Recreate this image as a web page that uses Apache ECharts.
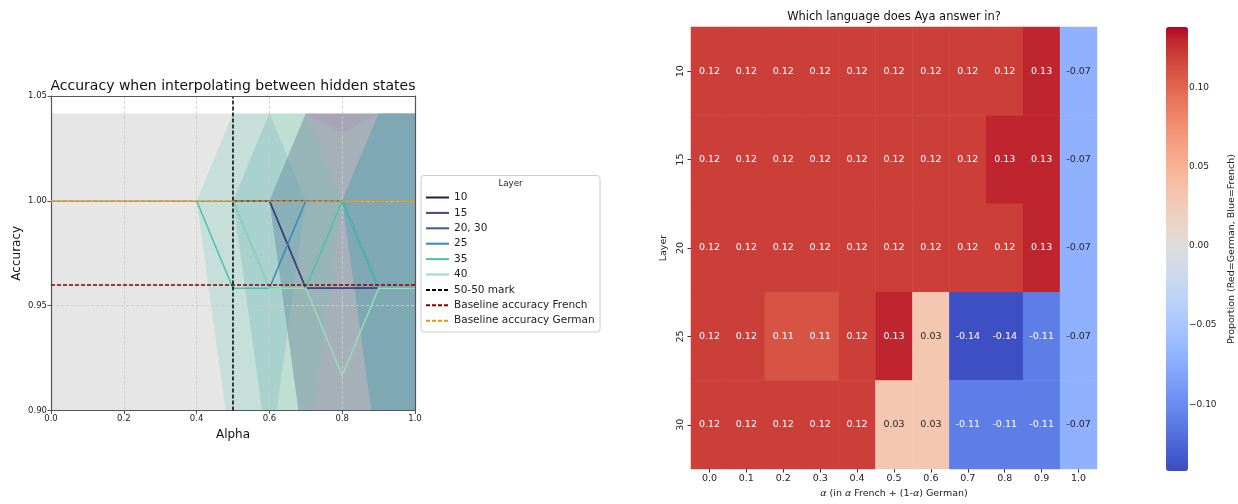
<!DOCTYPE html>
<html><head><meta charset="utf-8">
<script src="https://cdn.jsdelivr.net/npm/echarts@6/dist/echarts.min.js"></script>
<style>html,body{margin:0;padding:0;background:#fff}#c{width:1238px;height:504px}</style>
</head><body><div id="c"></div>
<script>
// ---------- Left chart data ----------
const alphas = [0.0, 0.1, 0.2, 0.3, 0.4, 0.5, 0.6, 0.7, 0.8, 0.9, 1.0];
const acc10 = [1, 1, 1, 1, 1, 1, 1, 0.9583, 0.9583, 0.9583, 0.9583];
const acc15 = [1, 1, 1, 1, 1, 1, 1, 0.9583, 0.9583, 0.9583, 0.9583];
const acc2030 = [1, 1, 1, 1, 1, 1, 1, 1, 1, 0.9583, 0.9583];
const acc25 = [1, 1, 1, 1, 1, 1, 0.9583, 1, 1, 0.9583, 0.9583];
const acc35 = [1, 1, 1, 1, 1, 0.9583, 0.9583, 0.9583, 1, 0.9583, 0.9583];
const acc40 = [1, 1, 1, 1, 1, 1, 0.9583, 0.9583, 0.9167, 0.9583, 0.9583];
// half-widths of the shaded bands
const err10 = [0, 0, 0, 0, 0, 0, 0, 0.0833, 0.0833, 0.0833, 0.0833];
const err15 = [0, 0, 0, 0, 0, 0, 0, 0.0833, 0.0833, 0.0833, 0.0833];
const err2030 = [0, 0, 0, 0, 0, 0, 0, 0, 0, 0.0833, 0.0833];
const err25 = [0, 0, 0, 0, 0, 0, 0.0833, 0, 0, 0.0833, 0.0833];
const err35 = [0, 0, 0, 0, 0, 0.0833, 0.0833, 0.0833, 0, 0.0833, 0.0833];
const err40 = [0, 0, 0, 0, 0, 0, 0.0833, 0.0833, 0.1153, 0.0833, 0.0833];
const layerNames = ['10', '15', '20, 30', '25', '35', '40'];
const baselineFrench = 0.9583;
const baselineFrenchErr = 0.0833;
const baselineGerman = 1.0;
const fiftyMark = 0.5;

// ---------- Right chart data ----------
const heatAlphas = ['0.0', '0.1', '0.2', '0.3', '0.4', '0.5', '0.6', '0.7', '0.8', '0.9', '1.0'];
const heatLayers = ['10', '15', '20', '25', '30'];
const row10 = [0.12, 0.12, 0.12, 0.12, 0.12, 0.12, 0.12, 0.12, 0.12, 0.13, -0.07];
const row15 = [0.12, 0.12, 0.12, 0.12, 0.12, 0.12, 0.12, 0.12, 0.13, 0.13, -0.07];
const row20 = [0.12, 0.12, 0.12, 0.12, 0.12, 0.12, 0.12, 0.12, 0.12, 0.13, -0.07];
const row25 = [0.12, 0.12, 0.11, 0.11, 0.12, 0.13, 0.03, -0.14, -0.14, -0.11, -0.07];
const row30 = [0.12, 0.12, 0.12, 0.12, 0.12, 0.03, 0.03, -0.11, -0.11, -0.11, -0.07];
const colorbarTicks = [-0.10, -0.05, 0.00, 0.05, 0.10];
const colorMin = -0.142, colorMax = 0.138;

// ---------- styles ----------
const FONT = 'DejaVu Sans';
const layerColors = ['#2b1d3a', '#45438a', '#37599c', '#3a86ba', '#4ac2a9', '#9adcb8'];
const coolwarm = ['#3b4cc0','#445acc','#4d68d7','#5775e1','#6282ea','#6c8ef1','#779af7','#82a5fb','#8db0fe','#98b9ff','#a3c2ff','#aec9fd','#b8d0f9','#c2d5f4','#ccd9ee','#d5dbe6','#dddddd','#e5d8d1','#ecd3c5','#f1ccb9','#f5c4ad','#f7bba0','#f7b194','#f7a687','#f49a7b','#f18d6f','#ec7f63','#e57058','#de604d','#d55042','#cb3e38','#c0282f','#b40426'];

const accs = [acc10, acc15, acc2030, acc25, acc35, acc40];
const errs = [err10, err15, err2030, err25, err35, err40];

const series = [];
function addBand(centre, half, color) {
  const pts = alphas.map((a, i) => [a, centre[i] - half[i], centre[i] + half[i]]);
  series.push({
    type: 'custom', xAxisIndex: 0, yAxisIndex: 0, data: pts, clip: true, silent: true, z: 1,
    encode: { x: 0, y: [1, 2] }, animation: false,
    renderItem: function (params, api) {
      if (params.dataIndex !== 0) return null;
      const poly = [];
      pts.forEach(p => poly.push(api.coord([p[0], p[1]])));
      for (let i = pts.length - 1; i >= 0; i--) poly.push(api.coord([pts[i][0], pts[i][2]]));
      const cs = params.coordSys;
      return {
        type: 'group',
        clipPath: { type: 'rect', shape: { x: cs.x, y: cs.y, width: cs.width, height: cs.height } },
        children: [{ type: 'polygon', shape: { points: poly }, style: { fill: color, opacity: 0.2, stroke: null } }]
      };
    }
  });
}
// French baseline band (gray)
addBand(alphas.map(() => baselineFrench), alphas.map(() => baselineFrenchErr), '#808080');
// layer bands
accs.forEach((acc, k) => addBand(acc, errs[k], layerColors[k]));
// layer lines
accs.forEach((acc, k) => {
  series.push({
    type: 'line', name: layerNames[k], xAxisIndex: 0, yAxisIndex: 0,
    data: alphas.map((a, i) => [a, acc[i]]), symbol: 'none',
    lineStyle: { color: layerColors[k], width: 1.5 }, itemStyle: { color: layerColors[k] },
    z: 3, animation: false, silent: true
  });
});
function refLine(name, color, spec, z) {
  const ls = { color: color, width: 1.5, type: [4, 2] };
  series.push({
    type: 'line', name: name, xAxisIndex: 0, yAxisIndex: 0, data: [], symbol: 'none',
    lineStyle: ls, itemStyle: { color: color }, z: z, animation: false,
    markLine: { silent: true, symbol: ['none', 'none'], label: { show: false }, lineStyle: ls,
      animation: false, data: [spec], z: z }
  });
}
refLine('Baseline accuracy French', '#8b0000', { yAxis: baselineFrench }, 4);
refLine('Baseline accuracy German', '#ff8c00', { yAxis: baselineGerman }, 4);
refLine('50-50 mark', '#000000', { xAxis: fiftyMark }, 5);

// heatmap
const heatRows = [row10, row15, row20, row25, row30];
const heatData = [];
heatRows.forEach((row, yi) => row.forEach((v, xi) => {
  heatData.push({ value: [xi, yi, v], label: { color: Math.abs(v) > 0.08 ? '#ffffff' : '#262626' } });
}));
const heatIndex = series.length;
series.push({
  type: 'heatmap', xAxisIndex: 2, yAxisIndex: 2, data: heatData,
  label: { show: true, fontFamily: FONT, fontSize: 9.5, formatter: p => p.value[2].toFixed(2) },
  emphasis: { disabled: true }, silent: true, animation: false
});

const gridLine = { show: true, lineStyle: { color: 'rgba(205,205,205,0.85)', type: [3, 2], width: 1 } };
const option = {
  animation: false,
  textStyle: { fontFamily: FONT },
  grid: [
    { left: 51, top: 96, width: 364, height: 314.5 },
    { left: 691, top: 27, width: 406, height: 444 },
    { left: 1166, top: 27, width: 22, height: 444 }
  ],
  xAxis: [
    { gridIndex: 0, type: 'value', min: 0, max: 1, interval: 0.2, z: 2,
      axisLine: { show: true, onZero: false, lineStyle: { color: '#555', width: 1.2 } },
      axisTick: { show: true, length: 3.5, lineStyle: { color: '#555' } },
      axisLabel: { fontSize: 8.5, color: '#222', margin: 4, formatter: v => v.toFixed(1) },
      splitLine: gridLine,
      name: 'Alpha', nameLocation: 'middle', nameGap: 18, nameTextStyle: { fontSize: 12, color: '#111' } },
    { gridIndex: 0, type: 'value', min: 0, max: 1, position: 'top', z: 6,
      axisLine: { show: true, onZero: false, lineStyle: { color: '#555', width: 1.2 } },
      axisTick: { show: false }, axisLabel: { show: false }, splitLine: { show: false } },
    { gridIndex: 1, type: 'category', data: heatAlphas,
      axisLine: { show: false }, axisTick: { show: true, alignWithLabel: true, length: 3.5, lineStyle: { color: '#333' } },
      axisLabel: { fontSize: 9.5, color: '#222', margin: 5 }, splitLine: { show: false },
      name: '{i|α} (in {i|α} French + (1-{i|α}) German)', nameLocation: 'middle', nameGap: 20,
      nameTextStyle: { fontSize: 9.5, color: '#222', rich: { i: { fontStyle: 'italic', fontSize: 9.5, fontFamily: FONT } } } },
    { gridIndex: 2, type: 'value', min: 0, max: 1, show: false }
  ],
  yAxis: [
    { gridIndex: 0, type: 'value', min: 0.9, max: 1.05, interval: 0.05, z: 2,
      axisLine: { show: true, onZero: false, lineStyle: { color: '#555', width: 1.2 } },
      axisTick: { show: true, length: 3.5, lineStyle: { color: '#555' } },
      axisLabel: { fontSize: 8.5, color: '#222', margin: 4, formatter: v => v.toFixed(2) },
      splitLine: gridLine,
      name: 'Accuracy', nameLocation: 'middle', nameGap: 28, nameRotate: 90,
      nameTextStyle: { fontSize: 12, color: '#111' } },
    { gridIndex: 0, type: 'value', min: 0.9, max: 1.05, position: 'right', z: 6,
      axisLine: { show: true, onZero: false, lineStyle: { color: '#555', width: 1.2 } },
      axisTick: { show: false }, axisLabel: { show: false }, splitLine: { show: false } },
    { gridIndex: 1, type: 'category', data: heatLayers, inverse: true,
      axisLine: { show: false }, axisTick: { show: true, alignWithLabel: true, length: 3.5, lineStyle: { color: '#333' } },
      axisLabel: { fontSize: 9.5, color: '#222', rotate: 90, margin: 5 }, splitLine: { show: false },
      name: 'Layer', nameLocation: 'middle', nameGap: 22, nameRotate: 90,
      nameTextStyle: { fontSize: 9.5, color: '#222' } },
    { gridIndex: 2, type: 'value', min: colorMin, max: colorMax, position: 'right',
      axisLine: { show: false },
      axisTick: { show: true, length: 3.5, customValues: colorbarTicks, lineStyle: { color: '#333' } },
      axisLabel: { fontSize: 9, color: '#222', margin: 3, customValues: colorbarTicks,
        formatter: v => (v < 0 ? '\u2212' : '') + Math.abs(v).toFixed(2) },
      splitLine: { show: false },
      name: 'Proportion (Red=German, Blue=French)', nameLocation: 'middle', nameGap: 41, nameRotate: 90,
      nameTextStyle: { fontSize: 9.5, color: '#222' } }
  ],
  visualMap: [{
    type: 'continuous', seriesIndex: heatIndex, dimension: 2, min: colorMin, max: colorMax,
    inRange: { color: coolwarm }, calculable: false, hoverLink: false, realtime: false,
    left: 1166, top: 27, itemWidth: 22, itemHeight: 444, padding: 0, text: null,
    showLabel: false
  }],
  legend: {
    data: ['10', '15', '20, 30', '25', '35', '40', '50-50 mark', 'Baseline accuracy French', 'Baseline accuracy German'],
    orient: 'vertical', left: 425, top: 192, itemWidth: 23, itemHeight: 11, itemGap: 4.4,
    itemStyle: { opacity: 0, borderWidth: 0 },
    textStyle: { fontSize: 10.5, color: '#222', fontFamily: FONT }, selectedMode: false, padding: 0
  },
  graphic: [
    { type: 'rect', shape: { x: 421, y: 175.5, width: 179, height: 156.5, r: 3 }, style: { fill: '#fff', stroke: '#cccccc', lineWidth: 1 }, z: -1 },
    { type: 'text', x: 510.5, y: 184, style: { text: 'Layer', fontSize: 8.7, fontFamily: FONT, fill: '#222', align: 'center', verticalAlign: 'middle' } },
    { type: 'text', x: 233, y: 86, style: { text: 'Accuracy when interpolating between hidden states', fontSize: 14, fontFamily: FONT, fill: '#111', align: 'center', verticalAlign: 'middle' } },
    { type: 'text', x: 894, y: 17, style: { text: 'Which language does Aya answer in?', fontSize: 11.5, fontFamily: FONT, fill: '#111', align: 'center', verticalAlign: 'middle' } }
  ],
  series: series
};
const chart = echarts.init(document.getElementById('c'), null, { renderer: 'canvas' });
chart.setOption(option);
</script>
</body></html>
